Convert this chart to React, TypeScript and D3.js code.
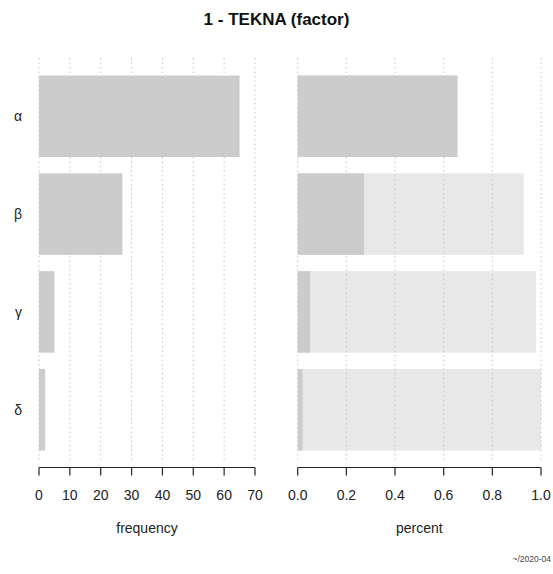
import React from "react";
import * as d3 from "d3";

const categories = ["α", "β", "γ", "δ"];
const frequencies = [65, 27, 5, 2];
const freqTicks = [0, 10, 20, 30, 40, 50, 60, 70];
const pctTicks = [0, 0.2, 0.4, 0.6, 0.8, 1.0];
const title = "1 - TEKNA (factor)";
const footer = "~/2020-04";

const W = 553;
const H = 574;
const FONT = "Arial, 'Liberation Sans', Helvetica, sans-serif";

export default function App() {
  const total = d3.sum(frequencies);
  const props = frequencies.map((f) => f / total);
  const cum = d3.cumsum(props) as unknown as number[];

  const y = d3
    .scaleBand<string>()
    .domain(categories)
    .range([59.2, 466.8])
    .paddingInner(1 / 6)
    .paddingOuter(1 / 6);

  const xF = d3.scaleLinear().domain([0, 70]).range([39, 255]);
  const xP = d3.scaleLinear().domain([0, 1]).range([297.7, 541]);

  const gridTop = 58;
  const gridBottom = 463;
  const axisY = 467.5;
  const dark = "#cccccc";
  const light = "#e8e8e8";
  const gridColor = "#c4c4c4";

  const axis = (
    x: d3.ScaleLinear<number, number>,
    ticks: number[],
    fmt: (v: number) => string,
    label: string
  ) => (
    <g>
      <line x1={x(ticks[0])} x2={x(ticks[ticks.length - 1])} y1={axisY} y2={axisY} stroke="#222" strokeWidth={1.2} />
      {ticks.map((t) => (
        <g key={t}>
          <line x1={x(t)} x2={x(t)} y1={axisY} y2={axisY + 8} stroke="#222" strokeWidth={1.2} />
          <text x={x(t)} y={500} textAnchor="middle" fontSize={14} fill="#222" fontFamily={FONT}>
            {fmt(t)}
          </text>
        </g>
      ))}
      <text
        x={(x.range()[0] + x.range()[1]) / 2}
        y={533}
        textAnchor="middle"
        fontSize={14}
        fill="#222"
        fontFamily={FONT}
      >
        {label}
      </text>
    </g>
  );

  const grid = (x: d3.ScaleLinear<number, number>, ticks: number[]) =>
    ticks.map((t) => (
      <line
        key={t}
        x1={x(t)}
        x2={x(t)}
        y1={gridTop}
        y2={gridBottom}
        stroke={gridColor}
        strokeWidth={1}
        strokeDasharray="1.5,3"
      />
    ));

  return (
    <svg
      width={W}
      height={H}
      style={{ position: "absolute", left: 0, top: 0, background: "#fff" }}
    >
      <rect width={W} height={H} fill="#fff" />
      <text x={276.5} y={25} textAnchor="middle" fontSize={17} fontWeight="bold" fill="#111" fontFamily={FONT}>
        {title}
      </text>

      {/* left panel: frequency */}
      {categories.map((c, i) => (
        <rect key={c} x={xF(0)} y={y(c)!} width={xF(frequencies[i]) - xF(0)} height={y.bandwidth()} fill={dark} />
      ))}
      {grid(xF, freqTicks)}
      {categories.map((c) => (
        <text
          key={c}
          x={22}
          y={y(c)! + y.bandwidth() / 2}
          textAnchor="end"
          dominantBaseline="central"
          fontSize={14}
          fill="#222"
          fontFamily={FONT}
        >
          {c}
        </text>
      ))}
      {axis(xF, freqTicks, (v) => d3.format("d")(v), "frequency")}

      {/* right panel: percent */}
      {categories.map((c, i) => (
        <rect key={"c" + c} x={xP(0)} y={y(c)!} width={xP(cum[i]) - xP(0)} height={y.bandwidth()} fill={light} />
      ))}
      {categories.map((c, i) => (
        <rect key={"p" + c} x={xP(0)} y={y(c)!} width={xP(props[i]) - xP(0)} height={y.bandwidth()} fill={dark} />
      ))}
      {grid(xP, pctTicks)}
      {axis(xP, pctTicks, (v) => d3.format(".1f")(v), "percent")}

      <text x={551} y={562} textAnchor="end" fontSize={8.5} fill="#444" fontFamily={FONT}>
        {footer}
      </text>
    </svg>
  );
}
